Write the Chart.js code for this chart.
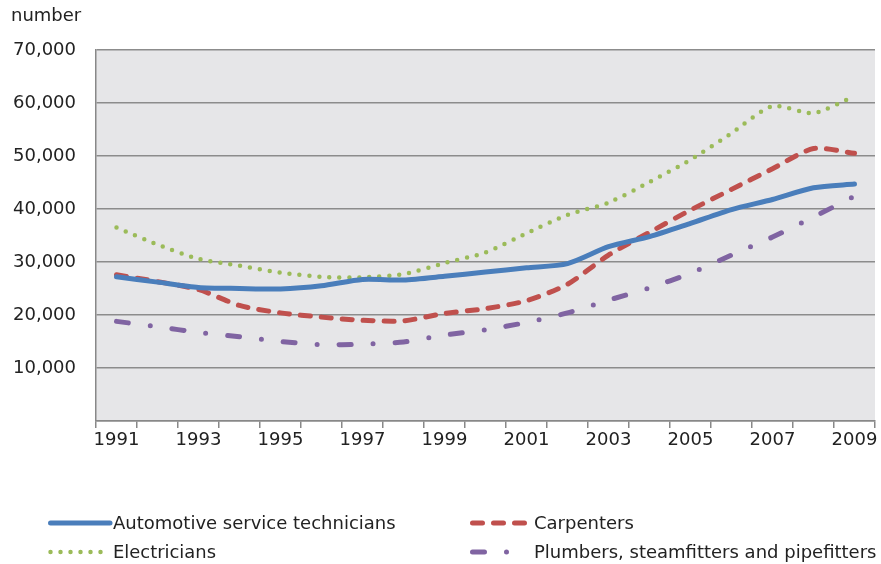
<!DOCTYPE html>
<html>
<head>
<meta charset="utf-8">
<script src="https://cdn.jsdelivr.net/npm/chart.js@4/dist/chart.umd.min.js"></script>
<style>
html, body { margin: 0; padding: 0; background: #fff; }
</style>
</head>
<body>
<canvas id="myChart" width="881" height="564"></canvas>
<script>
var years = ['1991','1992','1993','1994','1995','1996','1997','1998','1999','2000',
             '2001','2002','2003','2004','2005','2006','2007','2008','2009'];
var automotive = [27200, 26200, 25200, 25000, 24900, 25500, 26700, 26600, 27300, 28100,
                  28900, 29700, 32900, 34800, 37300, 39900, 41800, 44000, 44700];
var carpenters = [27600, 26300, 24800, 21800, 20400, 19600, 19000, 18900, 20300, 21200,
                  22700, 25800, 31300, 35600, 39800, 43700, 47600, 51400, 50500];
var electricians = [36500, 33300, 30600, 29300, 28000, 27200, 27100, 27700, 29800, 31800,
                    35400, 38900, 41200, 45100, 49300, 54300, 59400, 58100, 61300];
var plumbers = [18800, 17800, 16700, 15900, 15000, 14400, 14500, 14900, 16200, 17200,
                18600, 20400, 22800, 25100, 27900, 31300, 34700, 38500, 42400];
var yTickLabels = ['', '10,000', '20,000', '30,000', '40,000', '50,000', '60,000', '70,000'];

Chart.defaults.font.family = 'DejaVu Sans';
Chart.defaults.color = '#222';

// grey plot background, the "number" label and a two-column legend
var extras = {
    id: 'extras',
    beforeDraw: function(chart) {
        var a = chart.chartArea, c = chart.ctx;
        c.save();
        c.fillStyle = '#e6e6e8';
        c.fillRect(a.left, a.top, a.right - a.left, a.bottom - a.top);
        c.restore();
    },
    afterDraw: function(chart) {
        var c = chart.ctx;
        c.save();
        c.fillStyle = '#222';
        c.font = '18px "DejaVu Sans"';
        c.textBaseline = 'middle';
        c.fillText('number', 11, 16);

        var spots = [
            {x: 48, y: 523, len: 62, tx: 113, tw: 284},
            {x: 470, y: 523, len: 58, tx: 534, tw: 101},
            {x: 48, y: 552, len: 58, tx: 113, tw: 103},
            {x: 470, y: 552, len: 40, tx: 534, tw: 347}
        ];
        chart.data.datasets.forEach(function(ds, i) {
            var s = spots[i];
            c.beginPath();
            c.strokeStyle = ds.borderColor;
            c.lineWidth = ds.borderWidth;
            c.lineCap = ds.borderCapStyle;
            c.setLineDash(ds.borderDash || []);
            c.moveTo(s.x + 2.5, s.y);
            c.lineTo(s.x + s.len, s.y);
            c.stroke();
            c.setLineDash([]);
            c.font = '18px "DejaVu Sans"';
            c.fillText(ds.label, s.tx, s.y + 1, s.tw);
        });
        c.restore();
    }
};

var ctx = document.getElementById('myChart').getContext('2d');
var myChart = new Chart(ctx, {
    type: 'line',
    data: {
        labels: years,
        datasets: [{
            label: 'Automotive service technicians',
            data: automotive,
            borderColor: '#4a7ebb',
            borderWidth: 5,
            borderCapStyle: 'round'
        }, {
            label: 'Carpenters',
            data: carpenters,
            borderColor: '#c0504d',
            borderWidth: 5,
            borderCapStyle: 'round',
            borderDash: [10, 11]
        }, {
            label: 'Electricians',
            data: electricians,
            borderColor: '#9bbb59',
            borderWidth: 4.5,
            borderCapStyle: 'round',
            borderDash: [0, 10]
        }, {
            label: 'Plumbers, steamfitters and pipefitters',
            data: plumbers,
            borderColor: '#8064a2',
            borderWidth: 5,
            borderCapStyle: 'round',
            borderDash: [12, 22, 0, 22]
        }]
    },
    options: {
        responsive: false,
        animation: false,
        layout: {
            padding: {top: 50, right: 6, bottom: 103, left: 0}
        },
        elements: {
            point: { radius: 0 },
            line: { tension: 0.25 }
        },
        plugins: {
            legend: { display: false },
            tooltip: { enabled: false }
        },
        scales: {
            x: {
                offset: true,
                afterFit: function(scale) { scale.height = 40; },
                grid: {
                    offset: true,
                    drawOnChartArea: false,
                    drawTicks: true,
                    tickLength: 7,
                    tickColor: '#888',
                    lineWidth: 1.5
                },
                border: { color: '#888', width: 1.5 },
                ticks: {
                    autoSkip: false,
                    maxRotation: 0,
                    padding: 2,
                    font: { size: 18 },
                    callback: function(v, i) { return i % 2 === 0 ? years[i] : ''; }
                }
            },
            y: {
                min: 0,
                max: 70000,
                afterFit: function(scale) { scale.width = 96; },
                grid: {
                    color: '#8c8c8c',
                    lineWidth: 1.5,
                    drawTicks: false
                },
                border: { color: '#888', width: 1.5 },
                ticks: {
                    stepSize: 10000,
                    padding: 20,
                    font: { size: 18 },
                    callback: function(v) { return yTickLabels[v / 10000]; }
                }
            }
        }
    },
    plugins: [extras]
});
</script>
</body>
</html>
